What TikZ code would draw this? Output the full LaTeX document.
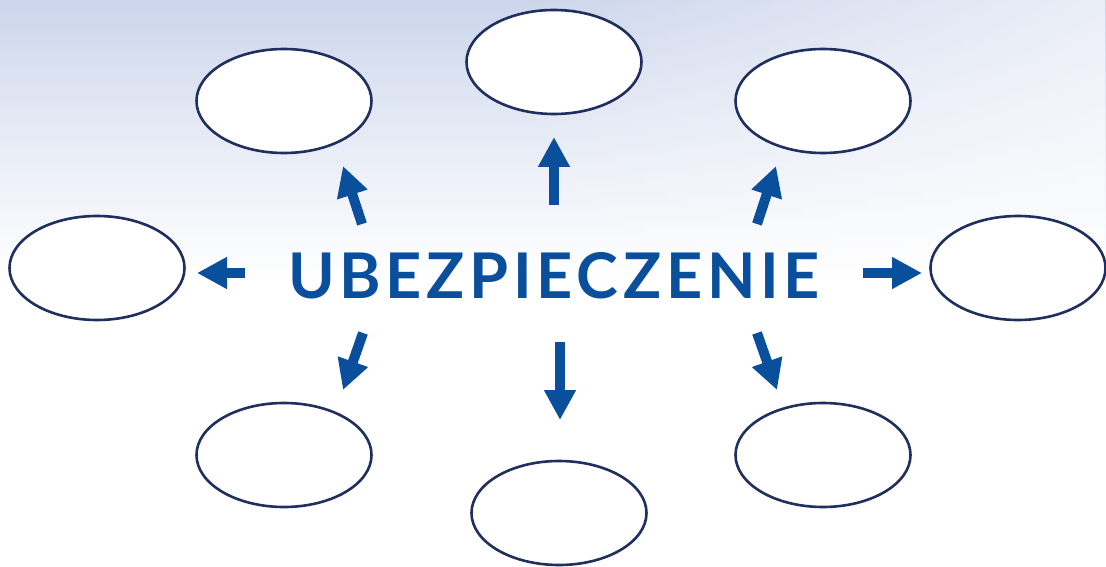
\documentclass[tikz,border=0pt]{standalone}
\usepackage{fontspec}
\newfontfamily\latofont[LetterSpace=7.5]{Lato}
\usetikzlibrary{arrows.meta,shapes.geometric,fadings}

\definecolor{navy}{HTML}{1F2F5E}
\definecolor{ubblue}{HTML}{0A4F9C}
\definecolor{skyblue}{HTML}{AEBDE0}

% sky behind the picture, blue at the top
\pgfdeclareverticalshading{sky}{100bp}{color(0bp)=(white); color(30bp)=(white);
  color(60bp)=(skyblue!40); color(82bp)=(skyblue!75); color(100bp)=(skyblue)}

\tikzset{
  bubble/.style={ellipse, draw=navy, line width=2.6pt, fill=white,
    minimum width=175pt, minimum height=104pt, inner sep=0pt},
  fatarrow/.style={-{Triangle[length=30pt,width=30pt]}, line width=10pt, ubblue}
}

\begin{document}
\begin{tikzpicture}[x=1pt,y=-1pt]
    \useasboundingbox (0,0) rectangle (1106,567);
    % background
    \fill[white] (0,0) rectangle (1106,567);
    \shade[shading=sky] (0,0) rectangle (1106,310);
    \fill[white, path fading=west, fill opacity=0.6] (500,0) rectangle (1106,310);

    \node [anchor=base, text=ubblue, font=\latofont\bfseries\fontsize{63}{63}\selectfont]
      (title) at (554,298) {UBEZPIECZENIE};

    % empty bubbles
    \foreach \name/\x/\y in {top/554/62, topleft/284/101, topright/823/101,
                             left/97/268, right/1018/268,
                             botleft/284/455, botright/823/455, bot/559/513}{
      \node [bubble] (\name) at (\x,\y) {};
    }

    % arrows
    \foreach \name/\tx/\ty/\hx/\hy in {up/554/205/554/137, ul/362/224/343/166,
                                       ur/757/224/776/166, le/245/273/197/273,
                                       ri/863/273/922/273, dl/363/333/343/390,
                                       dr/757/333/777/390, dn/560/342/560/420}{
      \coordinate (\name tail) at (\tx,\ty);
      \coordinate (\name head) at (\hx,\hy);
      \draw [fatarrow] (\name tail) -- (\name head);
    }
\end{tikzpicture}
\end{document}
